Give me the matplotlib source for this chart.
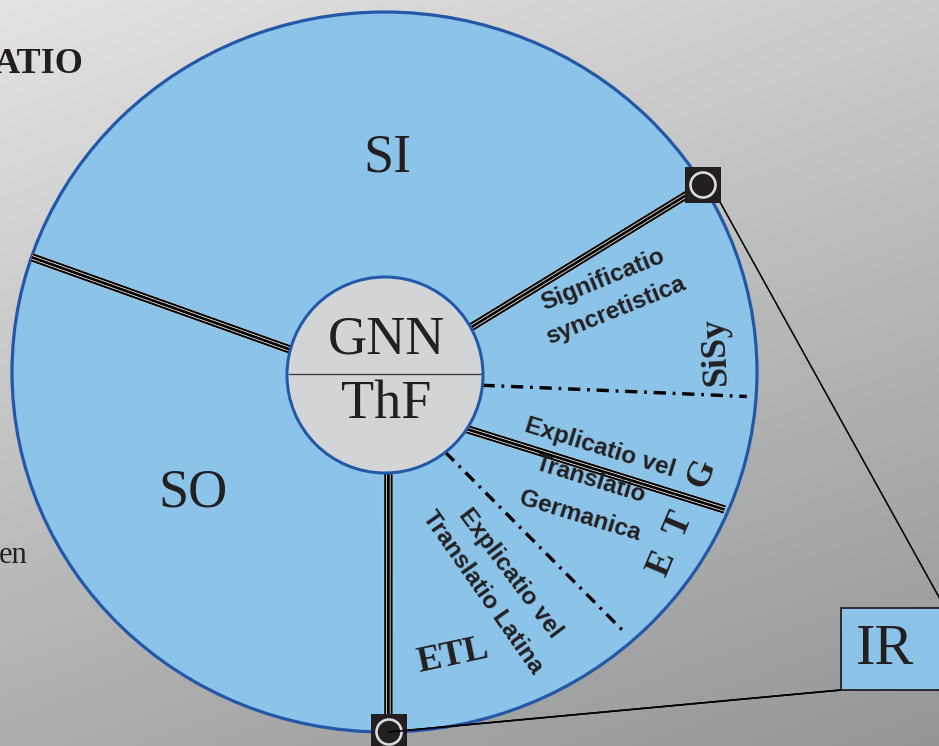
import numpy as np
import matplotlib.pyplot as plt
from matplotlib.patches import Ellipse, Circle, Rectangle

W, H = 939, 746

# diagram layout (pixel units of the picture)
big_center = (384.5, 372)
big_size = (745, 720)
hub_center = (385, 375)
hub_r = 98

# spokes: (angle on hub, angle on outer ellipse, style)
spoke_hub_angles = [165, 29, -6, -33.5, -52, -88]
spoke_rim_angles = [161.4, 31.3, -4, -22.7, -48.3, -89.4]
spoke_rim_scale = [1.0, 1.0, 0.975, 0.99, 0.965, 1.0]
spoke_styles = ['triple', 'triple', 'dashdot', 'triple', 'dashdot', 'triple']

sector_labels = ['SI', 'SO']
sector_pos = [(387, 158), (193, 493)]

hub_labels = ['GNN', 'ThF']
hub_pos = [(386, 340), (386, 405)]

sans_labels = ['Significatio', 'syncretistica', 'Explicatio vel', 'Translatio',
               'Germanica', 'Explicatio vel', 'Translatio Latina']
sans_pos = [(603, 280), (616, 310), (600, 448), (591, 480), (580, 516),
            (510, 573), (483, 592)]
sans_rot = [22, 22, -17, -17, -17, -53, -55]

abbr_labels = ['SiSy', 'G', 'T', 'E', 'ETL']
abbr_pos = [(716, 352), (702, 474), (679, 525), (662, 564), (453, 656)]
abbr_rot = [93, 67, 67, 67, 12]

node_pos = [(703, 185), (389, 732)]
box_xy = (841, 608)
box_size = (120, 82)
link_start = [(720, 202), (389, 732)]
link_end = [(945, 608), (841, 690)]

fig = plt.figure(figsize=(W / 100, H / 100), dpi=100)
ax = fig.add_axes([0, 0, 1, 1])
ax.set_xlim(0, W)
ax.set_ylim(H, 0)
ax.axis('off')

px = 0.72  # points per pixel

# background gradient
yy, xx = np.mgrid[0:H:4, 0:W:4]
val = 0.89 - 0.21 * (yy / H) - 0.1 * (xx / W)
bg = np.dstack([val, val + 0.004 * (xx / W), val + 0.012 * (xx / W) * (yy / H)])
ax.imshow(np.clip(bg, 0, 1), extent=[0, W, H, 0], zorder=0)

blue_fill = '#8cc3e8'
blue_edge = '#2358a8'
serif = 'Liberation Serif'
sans = 'Liberation Sans'

ax.add_patch(Ellipse(big_center, big_size[0], big_size[1], facecolor=blue_fill,
                     edgecolor=blue_edge, lw=3.2 * px, zorder=1))


def hub_point(a):
    t = np.radians(a)
    return np.array([hub_center[0] + hub_r * np.cos(t), hub_center[1] - hub_r * np.sin(t)])


def rim_point(a, s):
    t = np.radians(a)
    return np.array([big_center[0] + s * big_size[0] / 2 * np.cos(t),
                     big_center[1] - s * big_size[1] / 2 * np.sin(t)])


for ha_, ra_, sc, st in zip(spoke_hub_angles, spoke_rim_angles, spoke_rim_scale, spoke_styles):
    p0 = hub_point(ha_)
    p1 = rim_point(ra_, sc)
    if st == 'triple':
        d = (p1 - p0) / np.linalg.norm(p1 - p0)
        n = np.array([-d[1], d[0]])
        ax.plot([p0[0], p1[0]], [p0[1], p1[1]], color='white', lw=9 * px,
                solid_capstyle='butt', zorder=2)
        for off, w in [(-3.2, 2.1), (0, 2.8), (3.2, 2.1)]:
            q0, q1 = p0 + n * off, p1 + n * off
            ax.plot([q0[0], q1[0]], [q0[1], q1[1]], color='black', lw=w * px,
                    solid_capstyle='butt', zorder=3)
    else:
        ax.plot([p0[0], p1[0]], [p0[1], p1[1]], color='black', lw=3.4 * px,
                linestyle=(0, (3.6, 2.0, 0.8, 2.0)), dash_capstyle='butt', zorder=2)

# hub
ax.add_patch(Circle(hub_center, hub_r, facecolor='#d3d4d6', edgecolor=blue_edge,
                    lw=3 * px, zorder=4))
ax.plot([hub_center[0] - hub_r + 2, hub_center[0] + hub_r - 2],
        [hub_center[1] - 1, hub_center[1] - 1], color='#3a3a3a', lw=1.3 * px, zorder=5)

for lab, (x, y) in zip(hub_labels, hub_pos):
    ax.text(x, y, lab, fontsize=39, family=serif, color='#231f20',
            ha='center', va='center', zorder=6)

for lab, (x, y) in zip(sector_labels, sector_pos):
    ax.text(x, y, lab, fontsize=39, family=serif, color='#231f20',
            ha='center', va='center', zorder=6)

for lab, (x, y), r in zip(sans_labels, sans_pos, sans_rot):
    ax.text(x, y, lab, fontsize=17.5, family=sans, weight='bold', color='#231f20',
            ha='center', va='center', rotation=r, rotation_mode='anchor', zorder=6)

for lab, (x, y), r in zip(abbr_labels, abbr_pos, abbr_rot):
    ax.text(x, y, lab, fontsize=26, family=serif, weight='bold', color='#231f20',
            ha='center', va='center', rotation=r, rotation_mode='anchor', zorder=6)

# links to IR box
for (x0, y0), (x1, y1) in zip(link_start, link_end):
    ax.plot([x0, x1], [y0, y1], color='black', lw=1.6 * px, zorder=7)

# node squares
for (x, y) in node_pos:
    ax.add_patch(Rectangle((x - 18, y - 18), 36, 36, facecolor='#231f20',
                           edgecolor='none', zorder=8))
    ax.add_patch(Circle((x, y), 12.5, facecolor='none', edgecolor='#d9dde2',
                        lw=2.6 * px, zorder=9))
ax.plot([node_pos[1][0], link_end[1][0]], [node_pos[1][1], link_end[1][1]],
        color='black', lw=1.6 * px, zorder=10)

# IR box
ax.add_patch(Rectangle(box_xy, box_size[0], box_size[1], facecolor=blue_fill,
                       edgecolor='#231f20', lw=1.8 * px, zorder=8))
ax.text(box_xy[0] + 44, box_xy[1] + 42, 'IR', fontsize=42, family=serif,
        color='#231f20', ha='center', va='center', zorder=9)

# cut-off margin texts
ax.text(84, 73, 'ATIO', fontsize=26, family=serif, weight='bold', color='#231f20',
        ha='right', va='baseline', zorder=6)
ax.text(27, 563, 'en', fontsize=22, family=serif, color='#231f20',
        ha='right', va='baseline', zorder=6)

fig.savefig('out.png', dpi=100)
